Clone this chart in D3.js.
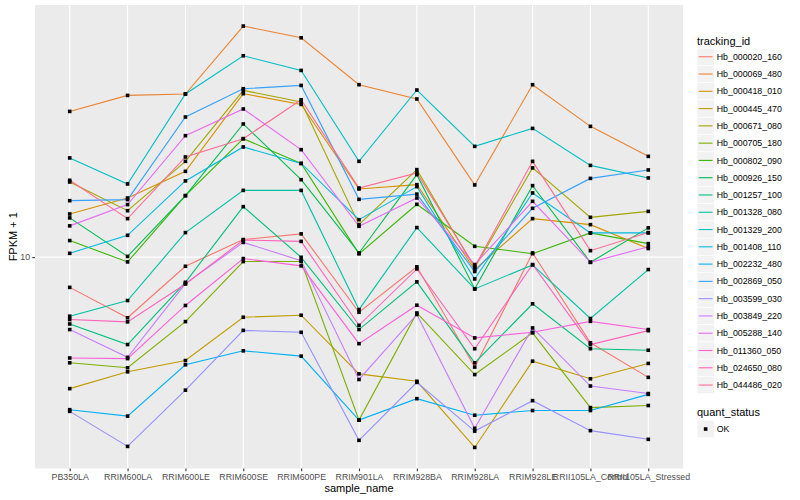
<!DOCTYPE html>
<html><head><meta charset="utf-8">
<script src="https://cdn.jsdelivr.net/npm/d3@7/dist/d3.min.js"></script>
<style>body{margin:0;background:#fff}text{font-family:"Liberation Sans",Arial,Helvetica,sans-serif}</style>
</head><body><svg id="c" width="800" height="500"></svg>
<script>
// ---- data ----
const samples = ["PB350LA","RRIM600LA","RRIM600LE","RRIM600SE","RRIM600PE","RRIM901LA","RRIM928BA","RRIM928LA","RRIM928LE","RRII105LA_Control","RRII105LA_Stressed"];
const trackingIds = ["Hb_000020_160","Hb_000069_480","Hb_000418_010","Hb_000445_470","Hb_000671_080","Hb_000705_180","Hb_000802_090","Hb_000926_150","Hb_001257_100","Hb_001328_080","Hb_001329_200","Hb_001408_110","Hb_002232_480","Hb_002869_050","Hb_003599_030","Hb_003849_220","Hb_005288_140","Hb_011360_050","Hb_024650_080","Hb_044486_020"];
// FPKM + 1 per sample
const Hb_000020_160 = [8.47, 7.17, 9.51, 11.01, 11.36, 7.39, 9.48, 5.47, 10.23, 6.25, 5.17];
const Hb_000069_480 = [22.24, 24.28, 24.47, 35.52, 33.31, 25.75, 23.81, 14.86, 25.75, 20.49, 17.38];
const Hb_000418_010 = [12.67, 13.83, 16.01, 24.51, 23.11, 14.53, 14.88, 9.34, 12.35, 11.95, 10.48];
const Hb_000445_470 = [4.86, 5.33, 5.67, 7.19, 7.27, 5.27, 5.06, 3.52, 5.65, 5.13, 5.58];
const Hb_000671_080 = [15.10, 12.90, 16.91, 24.96, 23.42, 11.95, 16.16, 9.44, 16.31, 12.44, 12.85];
const Hb_000705_180 = [5.60, 5.45, 7.02, 9.76, 9.76, 4.09, 7.36, 5.25, 6.60, 4.38, 4.43];
const Hb_000802_090 = [10.95, 9.74, 14.01, 19.15, 16.72, 10.18, 13.36, 10.61, 10.19, 11.42, 10.77];
const Hb_000926_150 = [12.40, 10.04, 14.01, 20.76, 15.29, 10.23, 15.72, 8.40, 14.80, 9.72, 11.74];
const Hb_001257_100 = [6.93, 6.19, 8.71, 13.19, 9.99, 6.72, 8.73, 5.60, 7.74, 6.05, 6.00];
const Hb_001328_080 = [7.23, 7.88, 11.44, 14.42, 14.42, 7.50, 11.76, 8.40, 9.58, 7.14, 9.34];
const Hb_001329_200 = [17.23, 14.94, 24.47, 30.18, 27.85, 16.91, 25.01, 18.36, 20.26, 16.54, 15.44];
const Hb_001408_110 = [10.21, 11.27, 15.19, 18.30, 16.72, 12.28, 14.72, 8.87, 14.22, 11.42, 11.42];
const Hb_002232_480 = [4.33, 4.18, 5.54, 5.98, 5.81, 4.09, 4.60, 4.20, 4.31, 4.31, 4.71];
const Hb_002869_050 = [13.63, 13.71, 21.57, 25.19, 25.65, 13.73, 14.13, 9.24, 13.07, 15.40, 16.13];
const Hb_003599_030 = [4.29, 3.54, 4.82, 6.69, 6.62, 3.66, 5.03, 3.85, 4.55, 3.86, 3.68];
const Hb_003849_220 = [6.72, 5.77, 8.65, 10.84, 9.81, 5.11, 7.30, 3.91, 6.78, 4.93, 4.73];
const Hb_005288_140 = [11.87, 13.34, 19.47, 22.54, 18.03, 11.84, 13.83, 9.60, 13.58, 9.72, 10.58];
const Hb_011360_050 = [5.75, 5.73, 7.67, 9.92, 9.53, 6.22, 7.68, 6.42, 6.62, 7.03, 6.72];
const Hb_024650_080 = [7.10, 7.01, 8.63, 10.98, 10.90, 6.88, 9.37, 6.05, 9.60, 6.19, 6.68];
const Hb_044486_020 = [15.24, 12.35, 17.32, 19.15, 23.71, 14.61, 15.87, 9.49, 16.91, 10.36, 11.44];
const seriesValues = [Hb_000020_160,Hb_000069_480,Hb_000418_010,Hb_000445_470,Hb_000671_080,Hb_000705_180,Hb_000802_090,Hb_000926_150,Hb_001257_100,Hb_001328_080,Hb_001329_200,Hb_001408_110,Hb_002232_480,Hb_002869_050,Hb_003599_030,Hb_003849_220,Hb_005288_140,Hb_011360_050,Hb_024650_080,Hb_044486_020];
const yTickValues = [10];
const quantStatus = ["OK"];

// ---- style ----
const palette = ["#F8766D","#EA8331","#D89000","#C09B00","#A3A500","#7CAE00","#39B600","#00BB4E","#00BF7D","#00C1A3","#00BFC4","#00BAE0","#00B0F6","#35A2FF","#9590FF","#C77CFF","#E76BF3","#FA62DB","#FF62BC","#FF6C91"];
const P = {left:35, right:683, top:5, bottom:468.5};

const svg = d3.select("#c");
svg.append("rect").attr("width",800).attr("height",500).attr("fill","#fff");

const series = trackingIds.map((id,i)=>({id, color: palette[i], values: seriesValues[i].map((v,j)=>({s:samples[j], v}))}));

const x = d3.scalePoint().domain(samples).range([P.left,P.right]).padding(0.6);
const all = seriesValues.flat();
const lo = Math.log10(d3.min(all)), hi = Math.log10(d3.max(all));
const ex = (hi-lo)*0.05;
const y = d3.scaleLog().domain([Math.pow(10,lo-ex), Math.pow(10,hi+ex)]).range([P.bottom,P.top]);

// panel
svg.append("rect").attr("x",P.left).attr("y",P.top).attr("width",P.right-P.left).attr("height",P.bottom-P.top).attr("fill","#EBEBEB");
const g = svg.append("g");
g.selectAll(".vg").data(samples).join("line")
  .attr("x1",d=>x(d)).attr("x2",d=>x(d)).attr("y1",P.top).attr("y2",P.bottom)
  .attr("stroke","#fff").attr("stroke-width",1.07);
g.selectAll(".hg").data(yTickValues).join("line")
  .attr("x1",P.left).attr("x2",P.right).attr("y1",d=>y(d)).attr("y2",d=>y(d))
  .attr("stroke","#fff").attr("stroke-width",1.07);

// lines
const line = d3.line().x(d=>x(d.s)).y(d=>y(d.v));
g.selectAll(".ln").data(series).join("path")
  .attr("d",d=>line(d.values)).attr("fill","none")
  .attr("stroke",d=>d.color).attr("stroke-width",1.1);
// points
const pts = series.flatMap(s=>s.values);
g.selectAll(".pt").data(pts).join("rect")
  .attr("x",d=>x(d.s)-1.8).attr("y",d=>y(d.v)-1.8).attr("width",3.6).attr("height",3.6)
  .attr("fill","#000");

// axes
const ya = svg.append("g").attr("transform",`translate(${P.left},0)`)
  .call(d3.axisLeft(y).tickValues(yTickValues).tickFormat(d3.format("d")).tickSize(2.75).tickPadding(2.2));
ya.select(".domain").remove();
ya.selectAll("line").attr("stroke","#333333").attr("stroke-width",1.07);
ya.selectAll("text").attr("fill","#4D4D4D").style("font-size","8.8px").attr("font-family","Liberation Sans, Arial, sans-serif");

const xa = svg.append("g").attr("transform",`translate(0,${P.bottom})`)
  .call(d3.axisBottom(x).tickSize(2.75).tickPadding(2.2));
xa.select(".domain").remove();
xa.selectAll("line").attr("stroke","#333333").attr("stroke-width",1.07);
xa.selectAll("text").attr("fill","#4D4D4D").style("font-size","8.8px").attr("font-family","Liberation Sans, Arial, sans-serif");

// titles
svg.append("text").attr("x",(P.left+P.right)/2).attr("y",492).attr("text-anchor","middle")
  .style("font-size","11px").attr("fill","#000").text("sample_name");
svg.append("text").attr("transform",`translate(16.5,${(P.top+P.bottom)/2}) rotate(-90)`).attr("text-anchor","middle")
  .style("font-size","11px").attr("fill","#000").text("FPKM + 1");

// legend
const L = {x:697, key:17.28, top:48.1};
svg.append("text").attr("x",L.x).attr("y",44.5).style("font-size","11px").attr("fill","#000").text("tracking_id");
const lg = svg.append("g");
const items = lg.selectAll("g").data(series).join("g")
  .attr("transform",(d,i)=>`translate(${L.x},${L.top + i*L.key})`);
items.append("rect").attr("width",L.key).attr("height",L.key).attr("fill","#F2F2F2").attr("stroke","#fff").attr("stroke-width",0.6);
items.append("line").attr("x1",1.7).attr("x2",L.key-1.7).attr("y1",L.key/2).attr("y2",L.key/2)
  .attr("stroke",d=>d.color).attr("stroke-width",1.1);
items.append("text").attr("x",L.key+2.5).attr("y",L.key/2+3.1).style("font-size","8.8px").attr("fill","#000").text(d=>d.id);

svg.append("text").attr("x",L.x).attr("y",416.3).style("font-size","11px").attr("fill","#000").text("quant_status");
const qs = svg.append("g").selectAll("g").data(quantStatus).join("g")
  .attr("transform",(d,i)=>`translate(${L.x},${420.4 + i*L.key})`);
qs.append("rect").attr("width",L.key).attr("height",L.key).attr("fill","#F2F2F2").attr("stroke","#fff").attr("stroke-width",0.6);
qs.append("rect").attr("x",L.key/2-1.8).attr("y",L.key/2-1.8).attr("width",3.6).attr("height",3.6).attr("fill","#000");
qs.append("text").attr("x",L.key+2.5).attr("y",L.key/2+3.1).style("font-size","8.8px").attr("fill","#000").text(d=>d);
</script></body></html>
